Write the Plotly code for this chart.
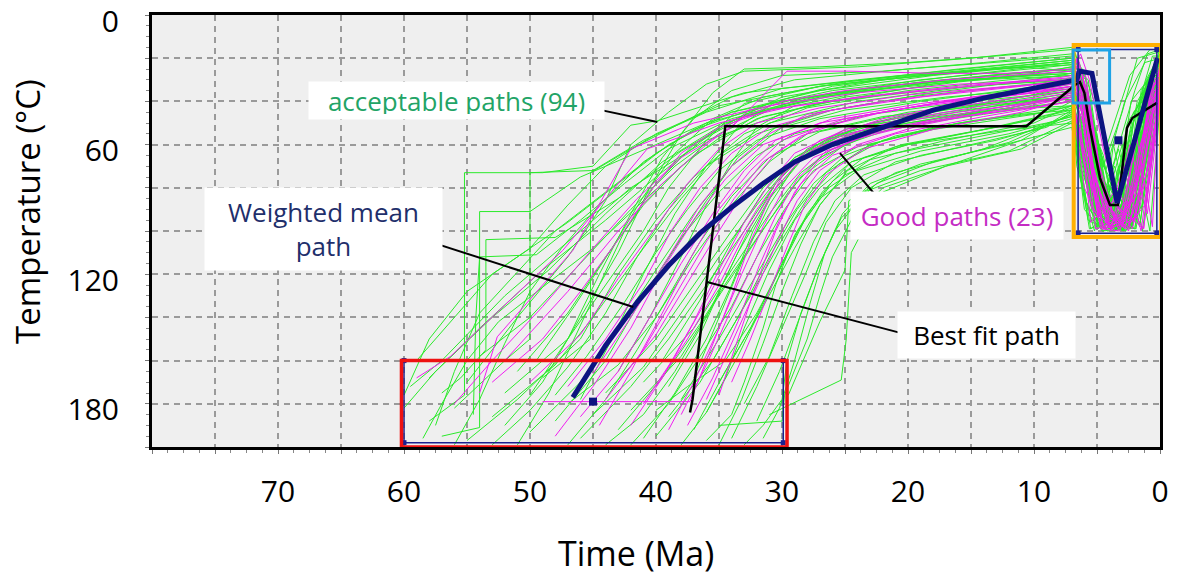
import plotly.graph_objects as go

# ---------------- data (time in Ma, temperature in degC) ----------------
green_paths = [
    [(59.5,172),(57,160),(52,130),(47,105),(42,80),(36,58),(28,42),(18,32),(10,27),(7,24),(5.8,45),(4.8,88),(3.2,96),(1.5,55),(0,24)],
    [(58,188),(55.2,176),(55.2,73),(49,73),(45,70),(42,51),(39.9,49),(33,36),(24,30),(14,24),(7,20),(6,26),(4,90),(2.5,94),(1.2,40),(0,20)],
    [(57,195),(54,191),(54,91),(50,91),(46,75),(40,60),(34,45),(26,35),(16,28),(7,22),(5,55),(3.8,97),(2.8,85),(1,30),(0,18)],
    [(56,182),(52,160),(50,150),(50,73),(45,72),(41,58),(36,45),(30,34),(20,28),(11,24),(7,26),(6.2,40),(5,95),(3,88),(2,45),(0.5,25),(0,22)],
    [(55,197),(51,178),(46,150),(43,120),(40,95),(37,75),(33,55),(28,43),(20,35),(12,30),(7,28),(4.5,65),(3.5,99),(2.2,70),(0.8,32),(0,35)],
    [(53,186),(48,162),(45,140),(41,108),(38,85),(35,65),(31,50),(24,40),(15,33),(7,30),(6,33),(4,80),(2.5,98),(1.5,55),(0,40)],
    [(52,175),(47,150),(44,125),(41,100),(39,80),(36,58),(33,41),(27,33),(18,27),(9,22),(7,21),(5.5,50),(4.2,85),(3,60),(1.8,92),(0,30)],
    [(50,193),(46,170),(43,145),(40,118),(37,92),(34,70),(30,52),(25,44),(17,38),(9,34),(7,32),(5,78),(3.6,92),(2,99),(0.7,40),(0,27)],
    [(49,168),(45.2,150),(45.2,73),(42,62),(38,50),(34,38),(29,30),(20,25),(11,21),(7,19),(6.5,24),(5.5,60),(4,75),(2,35),(1,18),(0,16)],
    [(48,188),(44,160),(41,130),(38,103),(35,82),(32,65),(29,55),(23,46),(15,40),(8,36),(7,35),(5.4,90),(4,97),(2.6,50),(0,26)],
    [(47,180),(43,162),(40,140),(37,112),(34,88),(31,68),(28,55),(22,47),(14,42),(7,38),(6,50),(4.6,93),(3.2,80),(1.6,98),(0.6,50),(0,33)],
    [(46,196),(42,172),(39,150),(36,125),(33,100),(30.5,78),(28,62),(24,52),(17,45),(10,40),(7,39),(5,84),(3.4,100),(2.4,78),(1,30),(0,38)],
    [(45,185),(41,163),(38,138),(35,112),(32,88),(29.5,70),(26,57),(20,50),(13,44),(7,42),(6.4,60),(5.2,97),(3,95),(1.4,55),(0,24)],
    [(44,175),(40,150),(37,125),(34,100),(31.5,80),(29,66),(25,55),(19,48),(12,43),(7,37),(5.6,72),(4.4,99),(3.3,70),(2,92),(0.4,45),(0,20)],
    [(43,192),(39.5,168),(36.5,143),(34,120),(31,95),(28.5,75),(25,60),(21,52),(14,46),(7,40),(6,44),(4.8,96),(2.8,99),(1.8,60),(0,30)],
    [(42,183),(38,158),(35,130),(32,104),(29.5,82),(27,66),(23,55),(17,48),(10,41),(7,36),(5.2,65),(3.8,88),(2.2,97),(0.9,38),(0,25)],
    [(41,170),(37,145),(34,118),(31,92),(28.5,73),(26,62),(22,53),(15,45),(8,38),(7,35),(6.1,38),(4.2,94),(2.9,62),(1.5,90),(0,34)],
    [(40,195),(36.5,170),(33.5,140),(31,112),(28.8,90),(26.5,73),(23,60),(18,52),(11,46),(7,44),(5.5,99),(3.6,90),(2.1,45),(0,30)],
    [(39,186),(35.5,160),(32.5,130),(30,104),(28,85),(25.5,69),(22,58),(16,50),(9,45),(7,42),(5.8,88),(4.5,100),(3,96),(1.2,60),(0,22)],
    [(38,178),(35,150),(32,120),(29.5,95),(27.5,78),(25,65),(21,56),(15,49),(8,43),(7,40),(6.5,55),(5,92),(3.9,80),(2.6,99),(1,42),(0,28)],
    [(37,192),(34.5,165),(31.5,135),(29,108),(27,88),(24.8,72),(21,61),(15,54),(8,46),(7,45),(5.3,80),(4,98),(2.7,70),(0.5,36),(0,36)],
    [(36,184),(33.5,158),(31,128),(28.8,100),(26.8,82),(24.5,68),(20.5,60),(14,53),(8,45),(7,43),(6,90),(4.7,99),(2,88),(0.8,28),(0,24)],
    [(35,170),(32.5,145),(30,115),(28,92),(26,77),(23.5,66),(20,60),(13,52),(7,44),(5.9,70),(4.4,91),(3.1,99),(1.3,50),(0,32)],
    [(34,196),(32,172),(30,145),(28,118),(26.5,96),(24.5,80),(21,68),(15,60),(9,52),(7,45),(5.1,93),(3.5,100),(2.3,65),(0,40)],
    [(33,180),(31,158),(29.2,130),(27.5,105),(25.8,86),(23.5,74),(19,65),(13,58),(7,48),(6.2,52),(4.9,85),(3.7,96),(1.9,99),(0.6,45),(0,30)],
    [(32,188),(30.2,165),(28.6,140),(27,115),(25.3,94),(22.5,78),(18,68),(12,59),(7,46),(5.7,95),(4.3,99),(2.5,82),(0,26)],
    [(31,185),(25.3,169),(24.9,150),(24.5,110),(22,82),(17,70),(11,58),(7,44),(5,80),(2,95),(0,30)],
    [(29.5,176),(27,142),(25,118),(24.7,86),(21,73),(14,62),(7,46),(4,97),(2.5,70),(0,35)],
    [(36,197),(34,185),(33,170),(31.5,145),(30.5,125),(29,102),(27,85),(24,72),(19,63),(12,55),(7,47),(5.4,75),(3.9,99),(1.7,74),(0,25)],
    [(44,199),(41,185),(38.5,165),(36,140),(33.5,110),(31,85),(28,64),(24,52),(18,44),(11,38),(7,33),(6.3,42),(4.6,89),(3.1,93),(1.1,35),(0,22)],
    [(58,168),(54,145),(49,118),(44,95),(40,75),(35,52),(30,38),(22,30),(13,25),(7,23),(5.9,35),(4.9,80),(3.3,97),(2.1,50),(0.3,20),(0,20)],
    [(54,158),(50,140),(46,115),(42,90),(38.5,70),(35,55),(31,44),(25,36),(16,30),(7,27),(6.1,30),(5,62),(3.9,95),(2.3,99),(0.9,30),(0,27)],
    [(51,165),(47,138),(44,112),(41,88),(38,70),(35,57),(31.5,47),(26,40),(17,34),(8,30),(7,29),(5.6,58),(4.1,82),(2.9,98),(1.6,40),(0,18)],
    [(47,199),(44,178),(41.5,155),(39,130),(36.5,105),(34,84),(31,66),(27,54),(20,45),(12,40),(7,38),(5.2,92),(4.4,78),(3,99),(1.9,48),(0,29)],
    [(42,199),(39,180),(36.5,158),(34,135),(32,112),(29.8,90),(27.5,72),(24,61),(18,53),(10,46),(7,42),(6.6,70),(5.2,100),(3.3,62),(1.6,97),(0,38)],
    [(39.5,160),(36.5,132),(34,105),(31.5,82),(29,66),(26,56),(22,50),(15,44),(8,37),(7,36),(5.9,47),(4.5,96),(3.7,60),(2.2,99),(0.7,26),(0,26)],
    [(45,160),(41.5,135),(38.5,108),(36,86),(33.5,66),(30.5,52),(27,45),(20,38),(12,33),(7,30),(6.4,36),(5.1,90),(3.6,70),(2.4,95),(1,40),(0,15)],
    [(60,182),(57.5,165),(53,140),(48.5,118),(44,92),(39.5,68),(34.5,50),(28,38),(19,30),(10,25),(7,23),(5.7,30),(4.3,86),(2.8,91),(1.3,33),(0,24)],
    [(57,175),(55.5,168),(53.5,155),(53.5,104),(48,103),(43,85),(38,63),(33,46),(26,36),(17,30),(7,25),(6,31),(4.7,70),(3.4,100),(2.1,80),(0.4,30),(0,26)],
    [(38,199),(36,184),(34.5,168),(33,145),(31,118),(29,95),(27,80),(24.5,68),(20,60),(13,54),(7,50),(5.6,99),(4.1,96),(2.7,58),(1.4,100),(0,40)],
    [(35,190),(30,188),(29.8,176),(28,150),(27,130),(26,112),(24.5,95),(22,80),(17,70),(11,62),(7,50),(5.5,60),(4.1,95),(2,99),(0,32)],
    [(33,199),(31.5,190),(30,178),(29.6,160),(28.5,138),(27.2,118),(25.8,100),(23.5,82),(19,72),(12,63),(7,49),(6.3,65),(4.8,98),(3.2,92),(1.2,58),(0,28)],
    [(40,183),(37.5,172),(34.5,160),(32,138),(30,116),(28.2,95),(26.3,80),(23,67),(17,58),(10,50),(7,42),(5.4,86),(4,99),(2.6,96),(0.9,44),(0,34)],
    [(48,176),(45.5,158),(42.5,133),(40,110),(37.5,90),(35,72),(32,58),(27,48),(19,40),(11,34),(7,31),(6.1,44),(4.8,92),(3.8,76),(2.2,98),(0.2,32),(0,32)],
    [(53,199),(50,183),(47,163),(44,138),(41.5,112),(39,90),(36,70),(32,55),(26,44),(18,36),(9,29),(7,27),(5.5,80),(3.9,97),(2.7,100),(1.2,36),(0,21)],
    [(52,190),(49,170),(46,140),(43,110),(40.5,80),(38,55),(35.5,36),(33,25),(27,24),(20,22),(13,19),(7,16),(6.7,18),(5.8,40),(4.5,70),(3,45),(1.8,20),(0,17)],
    [(55,170),(51,140),(47,112),(44,86),(42,60),(39,45),(36,32),(33,26),(24,24),(15,20),(7,15),(6.6,20),(5.5,35),(4.2,60),(2.4,28),(0.8,16),(0,16)],
    [(60,176),(58,150),(55,128),(51,112),(47,96),(43,78),(39,60),(34,45),(27,35),(18,28),(7,22),(5.9,30),(4.7,78),(3.5,90),(1.8,40),(0,22)],
    [(59,160),(56,140),(53,120),(50,108),(47,88),(44,70),(40,55),(35,42),(27,33),(17,27),(7,21),(6.3,28),(5.1,72),(3.6,99),(2.4,55),(0.6,19),(0,19)],
    [(57.5,190),(56,165),(54,138),(51.5,122),(48,100),(44,82),(40,64),(36,50),(29,39),(19,31),(8,25),(7,24),(5.4,50),(4.4,93),(2.9,100),(1.4,62),(0,26)],
    [(56,199),(54,178),(52,152),(50,128),(47.5,108),(44.5,88),(41,68),(37,53),(31,41),(22,33),(12,27),(7,25),(6,60),(4.9,99),(3.4,85),(2.3,40),(0,23)],
    [(54.5,185),(54.3,140),(54,112),(49.5,111),(46,95),(42.5,78),(39,62),(34,48),(27,38),(18,31),(7,27),(5.8,66),(4.3,99),(2.5,92),(1,48),(0,29)],
    [(51,199),(48.5,175),(46.5,150),(44.5,125),(42.5,100),(40,78),(37,60),(33,47),(27,38),(18,31),(7,28),(6.2,35),(5,85),(3.2,99),(2,70),(0.4,25),(0,25)],
    [(49.5,160),(46.5,135),(43.5,108),(41,84),(38.5,64),(35.5,48),(31.5,38),(25,31),(16,25),(7,20),(6.4,22),(5.3,52),(4.1,76),(2.7,90),(1.1,30),(0,18)],
    [(43,165),(40.5,140),(38,112),(36,88),(34,68),(32,52),(29,42),(23,35),(15,30),(7,26),(5.9,42),(4.6,98),(3.5,80),(2.2,99),(0.5,38),(0,38)],
    [(41,196),(38.5,175),(36,150),(34,125),(32.3,100),(30.5,80),(28,64),(24,54),(17,47),(10,42),(7,40),(6.2,72),(4.9,95),(3.3,99),(1.8,90),(0.3,28),(0,28)],
    [(37,168),(35,140),(33,112),(31,88),(29,70),(26.5,58),(23,50),(17,44),(10,38),(7,35),(5.7,45),(4.5,92),(2.9,99),(1.3,72),(0,30)],
    [(35,199),(33.2,178),(31.5,152),(30,128),(28.5,106),(27,88),(25,74),(21,64),(15,57),(9,50),(7,47),(5.5,88),(4.2,100),(2.4,99),(0.9,52),(0,31)],
    [(31.5,196),(30.2,182),(29,160),(27.8,134),(26.6,110),(25.2,92),(23,78),(19,69),(13,61),(7,52),(6,85),(4.6,100),(3,99),(1.4,66),(0,36)],
    [(46,178),(43.5,150),(41,120),(38.5,92),(36,70),(33.5,52),(30.5,40),(26,33),(19,28),(11,24),(7,22),(6.5,25),(5.2,65),(3.9,99),(2.6,96),(1.5,35),(0,20)],
    [(58.5,196),(57,180),(55,160),(52.5,142),(49,126),(45,108),(41,86),(37,65),(32,48),(25,38),(16,31),(7,26),(5.6,38),(4.4,88),(3,100),(1.7,84),(0.5,28),(0,28)],
    [(39,172),(36.5,148),(34.5,122),(32.5,98),(30.5,78),(28,63),(25,53),(20,46),(13,40),(7,34),(6.3,50),(5.1,98),(3.8,92),(2.2,60),(0.8,100),(0,42)],
    [(50,176),(47,150),(44.5,120),(42,92),(39.5,66),(37,48),(34,35),(30,28),(22,26),(14,22),(7,18),(6.6,22),(5.6,44),(4.3,72),(2.8,40),(1.2,22),(0,20)],
]

magenta_paths = [
    [(59,168),(56.3,158),(47.4,109),(42.6,75),(40.7,62),(35,50),(29,42),(22,37),(15,33),(7,29),(6.5,22),(5.8,35),(4.8,70),(3.5,96),(2.5,88),(1.5,60),(0.5,30),(0,28)],
    [(54,175),(52.6,149),(46.6,109),(42,62),(37,50),(31,42),(24,36),(16,32),(7,30),(6.2,26),(5.3,58),(4.1,90),(2.8,99),(1.6,70),(0.7,32),(0,32)],
    [(49,179),(37.3,179),(36,160),(34,130),(32.5,105),(31,85),(29.5,70),(27,58),(22,48),(15,40),(7,33),(6.3,30),(5.5,48),(4.4,85),(3,98),(1.2,66),(0,36)],
    [(50,170),(46,148),(43,122),(40,98),(37.5,78),(35,62),(32,50),(27,43),(20,37),(12,33),(7,31),(6.6,20),(6,40),(4.9,92),(3.4,80),(2.1,96),(0.3,34),(0,34)],
    [(46,186),(43,165),(40.5,140),(38,115),(35.5,92),(33,72),(30.5,58),(26,48),(19,41),(12,36),(7,32),(5.9,28),(4.7,75),(3.9,100),(2.4,60),(1,92),(0,40)],
    [(44,178),(41,155),(38.5,130),(36,105),(33.8,85),(31.5,68),(28.5,56),(24,47),(17,40),(10,35),(7,33),(6.4,38),(5,88),(3.6,95),(1.9,55),(0.6,98),(0,30)],
    [(42,190),(39.5,168),(37,142),(35,118),(33,96),(31,78),(29,64),(25,53),(18,44),(11,38),(7,35),(6.1,50),(4.6,97),(3.1,92),(1.4,45),(0,26)],
    [(40,172),(37.5,150),(35,125),(33,102),(31,84),(29,70),(26.5,58),(21,49),(14,42),(7,36),(6.8,26),(5.7,62),(4.3,93),(2.6,99),(1.1,74),(0,28)],
    [(38,185),(36,162),(34,136),(32,112),(30.5,93),(28.8,76),(26.5,63),(22,53),(15,45),(8,38),(7,36),(5.4,90),(3.8,98),(2.3,85),(0.9,50),(0,38)],
    [(36,178),(34,152),(32,126),(30.3,104),(28.8,86),(27,72),(24,60),(19,51),(12,43),(7,37),(6.2,45),(5.1,99),(3.3,96),(1.7,82),(0.4,40),(0,40)],
    [(34,170),(32.5,150),(31,128),(29.5,106),(28.2,88),(26.5,74),(23.5,62),(18,53),(11,45),(7,38),(5.8,73),(4.4,99),(2.9,70),(1.5,100),(0,33)],
    [(52,160),(47,128),(43,100),(39.5,78),(36,60),(33,47),(30,40),(25,35),(17,30),(9,27),(7,26),(6.3,18),(5.6,30),(4.5,62),(3.2,90),(2,95),(0.8,55),(0,22)],
    [(48,195),(45,172),(42,145),(39.5,118),(37,95),(34.5,76),(31.5,60),(27,50),(20,43),(13,38),(7,34),(6,42),(4.9,94),(3.7,86),(2.2,99),(0.5,60),(0,30)],
    [(45,166),(42,140),(39,112),(36.5,88),(34,70),(31,55),(28,46),(22,40),(15,35),(8,31),(7,30),(6.5,25),(5.4,68),(4.2,97),(2.7,92),(1.3,99),(0,36)],
    [(41,180),(38.5,158),(36,132),(34,110),(32,90),(30,74),(27.5,62),(23,52),(16,45),(9,40),(7,38),(6.7,30),(5.5,96),(4.1,88),(2.5,100),(0.7,45),(0,34)],
    [(39,192),(37,170),(35,145),(33.2,120),(31.5,98),(29.8,80),(27.5,66),(23,55),(16,47),(9,42),(7,40),(6,80),(4.5,99),(3,97),(1.8,65),(0,28)],
    [(56,180),(53,160),(49,135),(45,108),(41.5,85),(38,66),(34,52),(29.6,26),(24.6,26),(18,27),(12,27),(7,25),(6.5,20),(5.8,36),(4.6,80),(3.3,99),(2,75),(0.6,36),(0,24)],
    [(43,170),(40,148),(37.5,124),(35,100),(32.8,80),(30.5,64),(27.5,53),(22,45),(15,38),(8,33),(7,31),(6.2,25),(5.2,76),(4,92),(2.6,98),(1.2,88),(0,38)],
    [(47,172),(44,150),(41,124),(38.8,100),(36.5,80),(34,64),(31,52),(26,44),(19,38),(11,33),(7,30),(6.4,35),(5.2,82),(3.9,99),(2.3,94),(0.8,40),(0,35)],
    [(37.5,190),(35.5,168),(33.5,142),(31.8,116),(30.2,95),(28.5,78),(26,65),(21,55),(14,47),(8,41),(7,39),(5.9,65),(4.7,99),(3.2,100),(1.9,78),(0.5,35),(0,35)],
    [(53,170),(49,150),(46,128),(43,104),(40.5,82),(38,64),(35,52),(31,44),(24,38),(16,33),(8,29),(7,28),(6.6,24),(5.7,55),(4.5,99),(3,95),(1.6,48),(0,26)],
    [(35,176),(33.5,150),(32,124),(30.5,100),(29,82),(27.2,68),(24.5,58),(19,50),(12,44),(7,38),(6.1,60),(4.8,93),(3.5,100),(1.7,92),(0.2,45),(0,45)],
    [(44.5,190),(42,165),(39.5,138),(37.2,112),(35,90),(32.5,72),(30,58),(25,48),(18,41),(10,36),(7,33),(6.5,28),(5.3,70),(4,98),(2.7,86),(1.3,99),(0,32)],
]

mean_time = [46.6, 44.0, 41.5, 39.0, 36.5, 34.0, 31.5, 29.0, 26.0, 22.0, 18.0, 14.0, 10.0, 6.6, 6.4, 5.4, 3.4, 0.2]
mean_temp = [177, 153, 133, 116, 101, 89, 78, 68, 60, 52, 44, 38.5, 34, 30, 26, 27, 87, 20]
mean_marks_time = [45.0, 3.3]
mean_marks_temp = [179, 58]

best_time = [37.3, 37.1, 34.5, 10.6, 6.75, 6.35, 6.0, 5.56, 4.76, 3.97, 3.33, 2.62, 2.2, 0.24]
best_temp = [184, 178, 51.5, 51.5, 32.4, 31, 36, 52.3, 75.5, 88, 88, 52.3, 47.7, 40.7]

# constraint boxes (time_old, time_young, temp_low, temp_high)
constraint_boxes = [(60, 29.9, 160, 198), (6.5, 0.25, 16, 101)]
red_box = (60.2, 29.6, 160, 200)
orange_box = (6.85, -0.1, 13.9, 102.8)
blue_box = (6.9, 4.0, 16.2, 40.7)

x_tick_vals = [0, 5, 10, 15, 20, 25, 30, 35, 40, 45, 50, 55, 60, 65, 70, 75, 80]
x_tick_text = ["0", "", "10", "", "20", "", "30", "", "40", "", "50", "", "60", "", "70", "", ""]
y_tick_vals = [0, 20, 40, 60, 80, 100, 120, 140, 160, 180, 200]
y_tick_text = ["0", "", "", "60", "", "", "120", "", "", "180", ""]

FONT = "Open Sans"

# ---------------- helpers ----------------
def joined(paths):
    xs, ys = [], []
    for p in paths:
        for t, T in p:
            xs.append(t)
            ys.append(T)
        xs.append(None)
        ys.append(None)
    return xs, ys

fig = go.Figure()

gx, gy = joined(green_paths)
fig.add_trace(go.Scatter(x=gx, y=gy, mode="lines", line=dict(color="#2bea2b", width=1),
                         hoverinfo="skip", showlegend=False))
mx, my = joined(magenta_paths)
fig.add_trace(go.Scatter(x=mx, y=my, mode="lines", line=dict(color="#f01ef0", width=1),
                         hoverinfo="skip", showlegend=False))

fig.add_trace(go.Scatter(x=best_time, y=best_temp, mode="lines",
                         line=dict(color="black", width=2.5), hoverinfo="skip", showlegend=False))
fig.add_trace(go.Scatter(x=mean_time, y=mean_temp, mode="lines",
                         line=dict(color="#0c1480", width=5), hoverinfo="skip", showlegend=False))
fig.add_trace(go.Scatter(x=mean_marks_time, y=mean_marks_temp, mode="markers",
                         marker=dict(symbol="square", size=8, color="#0c1480"),
                         hoverinfo="skip", showlegend=False))

# constraint boxes (navy, thin, with corner squares)
for (t0, t1, T0, T1) in constraint_boxes:
    fig.add_trace(go.Scatter(x=[t0, t1, t1, t0, t0], y=[T0, T0, T1, T1, T0], mode="lines",
                             line=dict(color="#1a2090", width=1.5), hoverinfo="skip", showlegend=False))
    fig.add_trace(go.Scatter(x=[t0, t1, t1, t0], y=[T0, T0, T1, T1], mode="markers",
                             marker=dict(symbol="square", size=5, color="#1a2090"),
                             hoverinfo="skip", showlegend=False))

def rect(box, color, width):
    t0, t1, T0, T1 = box
    fig.add_shape(type="rect", xref="x", yref="y", x0=t0, x1=t1, y0=T0, y1=T1,
                  line=dict(color=color, width=width), fillcolor="rgba(0,0,0,0)", layer="above")

rect(red_box, "#ee1111", 3.5)
rect(orange_box, "#ffb000", 4)
rect(blue_box, "#1ea3e6", 3)

# ---------------- annotations ----------------
def label(x, y, text, color, w, h):
    fig.add_annotation(x=x, y=y, xref="x", yref="y", text=text, showarrow=False,
                       font=dict(family=FONT, size=26, color=color), bgcolor="white",
                       width=w, height=h, borderpad=5, align="center")

def pointer(x0, y0, x1, y1):
    fig.add_shape(type="line", xref="x", yref="y", x0=x0, y0=y0, x1=x1, y1=y1,
                  line=dict(color="black", width=2), layer="above")

pointer(45.2, 43, 39.9, 49.5)
pointer(58.9, 103.2, 41.8, 135.2)
pointer(22.4, 84.7, 25.4, 63.9)
pointer(20.0, 148.1, 35.95, 123.6)

label(55.8, 39.8, "acceptable paths (94)", "#22a466", 285, 27)
label(66.4, 99.1, "Weighted mean<br>path", "#1f2f6b", 227, 72)
label(16.1, 93.0, "Good paths (23)", "#c42cc4", 202, 37)
label(13.8, 148.0, "Best fit path", "black", 167, 36)

fig.add_annotation(x=-0.123, y=0.544, xref="paper", yref="paper", text="Temperature (°C)",
                   textangle=-90, showarrow=False, xanchor="center", yanchor="middle",
                   font=dict(family=FONT, size=33, color="black"))
fig.add_annotation(x=0.48, y=-0.245, xref="paper", yref="paper", text="Time (Ma)",
                   showarrow=False, xanchor="center", yanchor="middle",
                   font=dict(family=FONT, size=34, color="black"))

# ---------------- layout ----------------
fig.update_layout(
    width=1180, height=575,
    margin=dict(l=152, r=20, t=15, b=128),
    paper_bgcolor="white", plot_bgcolor="#efefef",
    font=dict(family=FONT, color="black"),
    showlegend=False,
)
fig.update_xaxes(range=[80, 0], tickmode="array", tickvals=x_tick_vals, ticktext=x_tick_text,
                 automargin=False,
                 showgrid=True, gridcolor="#9a9a9a", gridwidth=1.5, griddash="6px,5px",
                 showline=True, linecolor="black", linewidth=3, mirror=True,
                 ticks="outside", ticklen=4, tickcolor="#777", tickfont=dict(size=30, family=FONT),
                 ticklabelstandoff=12, ticklabeloverflow="allow", zeroline=False,
                 minor=dict(dtick=1.25, tick0=0, ticks="outside", ticklen=3, tickcolor="#888", showgrid=False))
fig.update_yaxes(range=[200, 0], tickmode="array", tickvals=y_tick_vals, ticktext=y_tick_text,
                 automargin=False,
                 showgrid=True, gridcolor="#9a9a9a", gridwidth=1.5, griddash="6px,5px",
                 showline=True, linecolor="black", linewidth=3, mirror=True,
                 ticks="outside", ticklen=4, tickcolor="#777", tickfont=dict(size=30, family=FONT),
                 ticklabelstandoff=20, ticklabelshift=-6, ticklabeloverflow="allow", zeroline=False,
                 minor=dict(dtick=5, tick0=0, ticks="outside", ticklen=3, tickcolor="#888", showgrid=False))

fig.write_html("out.html")
